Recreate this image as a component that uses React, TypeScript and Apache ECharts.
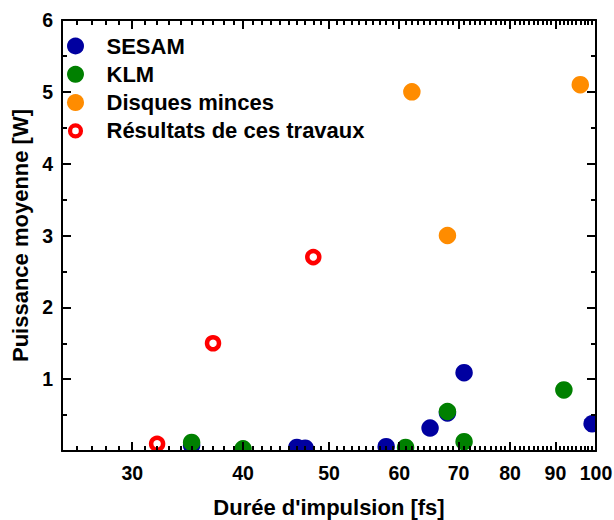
import { useEffect, useRef } from 'react';
import * as echarts from 'echarts';

// ---- data ----
const xMajorTicks = [30, 40, 50, 60, 70, 80, 90, 100];
const xMinorTicks = [
  26, 27, 28, 29, 31, 32, 33, 34, 35, 36, 37, 38, 39, 41, 42, 43, 44, 45, 46, 47, 48, 49,
  51, 52, 53, 54, 55, 56, 57, 58, 59, 61, 62, 63, 64, 65, 66, 67, 68, 69,
  71, 72, 73, 74, 75, 76, 77, 78, 79, 81, 82, 83, 84, 85, 86, 87, 88, 89,
  91, 92, 93, 94, 95, 96, 97, 98, 99,
];
const seriesNames = ['SESAM', 'KLM', 'Disques minces', 'Résultats de ces travaux'];
const sesam = [[35, 0.08], [46, 0.05], [47, 0.04], [58, 0.06], [65, 0.32], [68, 0.53], [71, 1.09], [99, 0.38]];
const klm = [[35, 0.12], [40, 0.03], [61, 0.05], [68, 0.55], [71, 0.13], [92, 0.85]];
const disques = [[62, 5.0], [68, 3.0], [96, 5.1]];
const travaux = [[32, 0.1], [37, 1.5], [48, 2.7]];

const FONT = '"Liberation Sans", Arial, Helvetica, sans-serif';
const ringIcon =
  'path://M -9 -9 M 9 9 M 0 -8 A 8 8 0 1 1 0 8 A 8 8 0 1 1 0 -8 Z M 0 -3.5 A 3.5 3.5 0 1 0 0 3.5 A 3.5 3.5 0 1 0 0 -3.5 Z';

export default function App() {
  const ref = useRef<HTMLDivElement>(null);
  useEffect(() => {
    if (!ref.current) return;
    const chart = echarts.init(ref.current, null, { renderer: 'svg' });
    const black = '#000';
    const labelStyle = { fontSize: 19.5, fontWeight: 'bold' as const, color: black, fontFamily: FONT };
    const nameStyle = { fontSize: 22, fontWeight: 'bold' as const, color: black, fontFamily: FONT };
    const lineStyle = { color: black, width: 2, opacity: 1 };
    const xBase = { type: 'log' as const, logBase: 10, min: 25, max: 100, z: 10, splitLine: { show: false }, gridIndex: 0 };
    const yBase = { type: 'value' as const, min: 0, max: 6, interval: 1, z: 10, splitLine: { show: false }, gridIndex: 0 };

    chart.setOption({
      animation: false,
      backgroundColor: '#fff',
      grid: { left: 62, right: 18, top: 20, bottom: 69, containLabel: false, outerBoundsMode: 'none' },
      legend: {
        orient: 'vertical',
        left: 67,
        top: 35,
        padding: 0,
        itemGap: 6.3,
        itemWidth: 52,
        itemHeight: 17,
        textStyle: { fontSize: 22, fontWeight: 'bold', color: black, fontFamily: FONT, lineHeight: 22 },
        data: [
          seriesNames[0],
          seriesNames[1],
          seriesNames[2],
          { name: seriesNames[3], icon: ringIcon, itemStyle: { color: '#FF0000', borderWidth: 0, opacity: 1 } },
        ],
      },
      xAxis: [
        {
          ...xBase,
          position: 'bottom',
          axisLine: { show: true, lineStyle },
          axisTick: { show: true, inside: true, length: 9, lineStyle, customValues: xMajorTicks },
          axisLabel: { ...labelStyle, margin: 11.5, customValues: xMajorTicks },
          name: "Durée d'impulsion [fs]",
          nameLocation: 'middle',
          nameGap: 45.5,
          nameTextStyle: nameStyle,
        },
        {
          ...xBase,
          position: 'bottom',
          axisLine: { show: false },
          axisTick: { show: true, inside: true, length: 5, lineStyle, customValues: xMinorTicks },
          axisLabel: { show: false },
        },
        {
          ...xBase,
          position: 'top',
          axisLine: { show: true, lineStyle },
          axisTick: { show: true, inside: true, length: 9, lineStyle, customValues: xMajorTicks },
          axisLabel: { show: false },
        },
        {
          ...xBase,
          position: 'top',
          axisLine: { show: false },
          axisTick: { show: true, inside: true, length: 5, lineStyle, customValues: xMinorTicks },
          axisLabel: { show: false },
        },
      ],
      yAxis: [
        {
          ...yBase,
          position: 'left',
          axisLine: { show: true, lineStyle },
          axisTick: { show: true, inside: true, length: 9, lineStyle },
          minorTick: { show: true, splitNumber: 2, length: 5, lineStyle },
          axisLabel: { ...labelStyle, margin: 9, formatter: (v: number) => (v === 0 ? '' : String(v)) },
          name: 'Puissance moyenne [W]',
          nameLocation: 'middle',
          nameGap: 26,
          nameTextStyle: nameStyle,
        },
        {
          ...yBase,
          position: 'right',
          axisLine: { show: true, lineStyle },
          axisTick: { show: true, inside: true, length: 9, lineStyle },
          minorTick: { show: true, splitNumber: 2, length: 5, lineStyle },
          axisLabel: { show: false },
        },
      ],
      graphic: [
        { type: 'rect', z: 5, silent: true, shape: { x: 62, y: 452, width: 552, height: 9 }, style: { fill: '#fff' } },
        { type: 'rect', z: 5, silent: true, shape: { x: 597, y: 0, width: 17, height: 452 }, style: { fill: '#fff' } },
      ],
      series: [
        { name: seriesNames[0], type: 'scatter', data: sesam, symbol: 'circle', symbolSize: 17.5, itemStyle: { color: '#0000A0', opacity: 1 } },
        { name: seriesNames[1], type: 'scatter', data: klm, symbol: 'circle', symbolSize: 17.5, itemStyle: { color: '#008000', opacity: 1 } },
        { name: seriesNames[2], type: 'scatter', data: disques, symbol: 'circle', symbolSize: 17.5, itemStyle: { color: '#FF8C00', opacity: 1 } },
        {
          name: seriesNames[3],
          type: 'scatter',
          data: travaux,
          symbol: 'circle',
          symbolSize: 12,
          itemStyle: { color: '#FFFFFF', borderColor: '#FF0000', borderWidth: 4.5, opacity: 1 },
        },
      ],
    });
    return () => chart.dispose();
  }, []);
  return <div ref={ref} style={{ position: 'absolute', left: 0, top: 0, width: 614, height: 520 }} />;
}
